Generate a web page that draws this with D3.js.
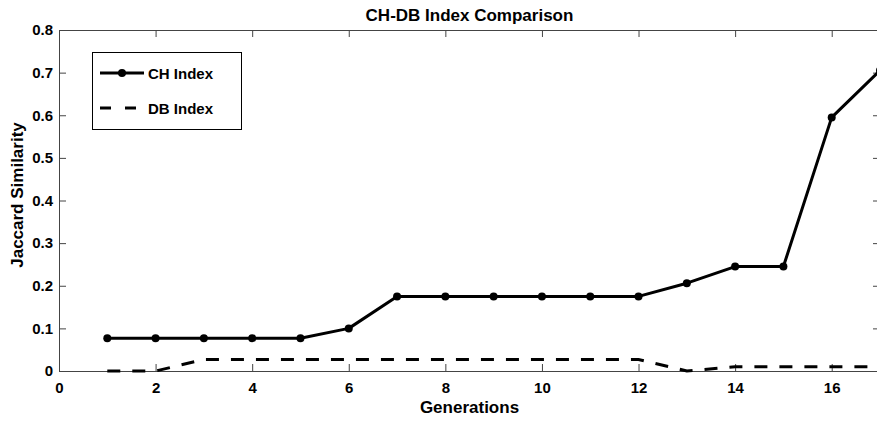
<!DOCTYPE html>
<html>
<head>
<meta charset="utf-8">
<script src="https://cdn.jsdelivr.net/npm/d3@7"></script>
<style>
    body { margin: 0; background: #fff; }
    svg { display: block; font-family: "Liberation Sans", Arial, sans-serif; }
    .axis path, .axis line { stroke: #444; }
    .axis text { font-size: 15px; font-weight: bold; fill: #000; font-family: "Liberation Sans", Arial, sans-serif; }
</style>
</head>
<body>
<svg id="chart" width="877" height="421"></svg>
<script>
const generations = [1, 2, 3, 4, 5, 6, 7, 8, 9, 10, 11, 12, 13, 14, 15, 16, 17];
const chIndex = [0.077, 0.077, 0.077, 0.077, 0.077, 0.100, 0.175, 0.175, 0.175, 0.175, 0.175, 0.175, 0.206, 0.245, 0.245, 0.595, 0.705];
const dbIndex = [0, 0, 0.027, 0.027, 0.027, 0.027, 0.027, 0.027, 0.027, 0.027, 0.027, 0.027, 0, 0.01, 0.01, 0.01, 0.01];
const xTicks = [0, 2, 4, 6, 8, 10, 12, 14, 16];
const yTicks = [0, 0.1, 0.2, 0.3, 0.4, 0.5, 0.6, 0.7, 0.8];

const svg = d3.select("#chart");
const marginLeft = 59, marginTop = 30, plotRight = 880, plotBottom = 371;

const x = d3.scaleLinear().domain([0, 17]).range([marginLeft, plotRight]);
const y = d3.scaleLinear().domain([0, 0.8]).range([plotBottom, marginTop]);

// title
svg.append("text")
    .attr("x", (marginLeft + plotRight) / 2)
    .attr("y", 21)
    .style("text-anchor", "middle")
    .style("font-size", "17px")
    .style("font-weight", "bold")
    .text("CH-DB Index Comparison");

// axes, ticks pointing inward like matlab's box
svg.append("g")
    .attr("class", "axis")
    .attr("transform", `translate(0,${plotBottom})`)
    .call(d3.axisBottom(x).tickValues(xTicks).tickSize(-7).tickSizeOuter(0).tickPadding(11).tickFormat(d3.format("d")));

svg.append("g")
    .attr("class", "axis")
    .attr("transform", `translate(0,${marginTop})`)
    .call(d3.axisTop(x).tickValues(xTicks).tickSize(-7).tickSizeOuter(0).tickFormat(""));

svg.append("g")
    .attr("class", "axis")
    .attr("transform", `translate(${marginLeft},0)`)
    .call(d3.axisLeft(y).tickValues(yTicks).tickSize(-7).tickSizeOuter(0).tickPadding(6).tickFormat(d => d === 0 ? "0" : d3.format(".1f")(d)));

svg.append("g")
    .attr("class", "axis")
    .attr("transform", `translate(${plotRight},0)`)
    .call(d3.axisRight(y).tickValues(yTicks).tickSize(-7).tickSizeOuter(0).tickFormat(""));

svg.selectAll(".axis .domain").attr("stroke-width", 1);

// axis labels
svg.append("text")
    .attr("x", (marginLeft + plotRight) / 2)
    .attr("y", 413)
    .style("text-anchor", "middle")
    .style("font-size", "17px")
    .style("font-weight", "bold")
    .text("Generations");

svg.append("text")
    .attr("transform", `rotate(-90)`)
    .attr("x", -195)
    .attr("y", 23)
    .style("text-anchor", "middle")
    .style("font-size", "17px")
    .style("font-weight", "bold")
    .text("Jaccard Similarity");

const line = d3.line()
    .x((d, i) => x(generations[i]))
    .y(d => y(d));

svg.append("path")
    .datum(dbIndex)
    .attr("fill", "none")
    .attr("stroke", "#000")
    .attr("stroke-width", 3)
    .attr("stroke-dasharray", "13,12")
    .attr("d", line);

svg.append("path")
    .datum(chIndex)
    .attr("fill", "none")
    .attr("stroke", "#000")
    .attr("stroke-width", 3)
    .attr("stroke-linejoin", "round")
    .attr("d", line);

svg.selectAll(".ch-point")
    .data(chIndex)
    .enter()
    .append("circle")
    .attr("class", "ch-point")
    .attr("cx", (d, i) => x(generations[i]))
    .attr("cy", d => y(d))
    .attr("r", 4)
    .attr("fill", "#000");

// legend
const legend = svg.append("g");
legend.append("rect")
    .attr("x", 92.5)
    .attr("y", 52.5)
    .attr("width", 149)
    .attr("height", 77)
    .attr("fill", "#fff")
    .attr("stroke", "#000")
    .attr("stroke-width", 1);

legend.append("line")
    .attr("x1", 100).attr("x2", 144)
    .attr("y1", 73).attr("y2", 73)
    .attr("stroke", "#000")
    .attr("stroke-width", 3);

legend.append("circle")
    .attr("cx", 122).attr("cy", 73)
    .attr("r", 4)
    .attr("fill", "#000");

legend.append("line")
    .attr("x1", 100).attr("x2", 144)
    .attr("y1", 108).attr("y2", 108)
    .attr("stroke", "#000")
    .attr("stroke-width", 3)
    .attr("stroke-dasharray", "11,14");

legend.append("text")
    .attr("x", 148).attr("y", 79)
    .style("font-size", "15px")
    .style("font-weight", "bold")
    .text("CH Index");

legend.append("text")
    .attr("x", 148).attr("y", 113.5)
    .style("font-size", "15px")
    .style("font-weight", "bold")
    .text("DB Index");
</script>
</body>
</html>
